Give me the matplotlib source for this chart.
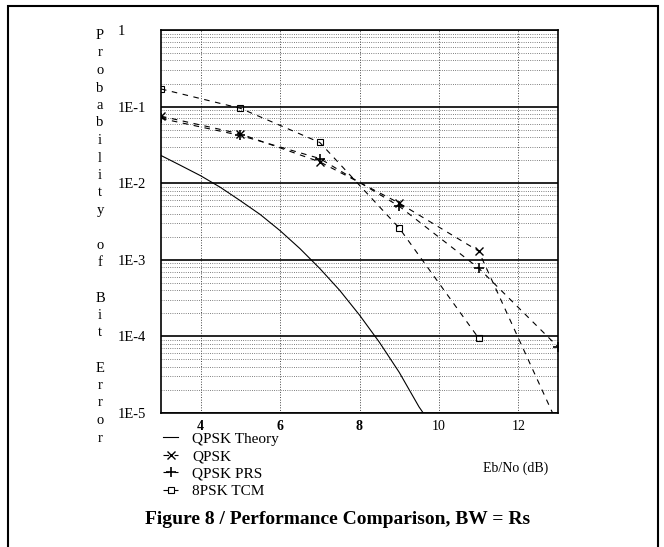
import matplotlib
matplotlib.use('Agg')
import matplotlib.pyplot as plt
from matplotlib.patches import Rectangle
from matplotlib.ticker import LogLocator, NullFormatter

plt.rcParams['font.family'] = ['Liberation Serif', 'DejaVu Serif']

# valores
ebno_theory = [3, 3.5, 4, 4.5, 5, 5.5, 6, 6.5, 7, 7.5, 8, 8.5, 9, 9.5, 9.7]
ber_theory = [2.3e-2, 1.7e-2, 1.25e-2, 8.8e-3, 5.9e-3, 3.9e-3, 2.4e-3, 1.4e-3,
              7.7e-4, 4.0e-4, 1.9e-4, 8.4e-5, 3.4e-5, 1.2e-5, 8.5e-6]

ebno_meas = [3, 5, 7, 9, 11, 13]
ber_qpsk = [0.075, 0.044, 0.019, 0.0055, 0.0013, 7e-6]
ber_prs = [0.07, 0.042, 0.021, 0.005, 7.8e-4, 7.3e-5]

ebno_tcm = [3, 5, 7, 9, 11]
ber_tcm = [0.17, 0.095, 0.034, 0.0026, 9.5e-5]

xticks = [4, 6, 8, 10, 12]
yticks = [1, 1e-1, 1e-2, 1e-3, 1e-4, 1e-5]
ytick_labels = ['1', '1E-1', '1E-2', '1E-3', '1E-4', '1E-5']

fig = plt.figure(figsize=(6.64, 5.47), dpi=100)
ax = fig.add_axes([161/664, 1-413/547, 397/664, 383/547])

dash = (0, (5, 5))
l1, = ax.plot(ebno_theory, ber_theory, '-', color='black', lw=0.8, label='QPSK Theory')
l2, = ax.plot(ebno_meas, ber_qpsk, linestyle=dash, color='black', lw=0.8,
              marker='x', ms=6, mew=1.0, label='QPSK')
l3, = ax.plot(ebno_meas, ber_prs, linestyle=dash, color='black', lw=0.8,
              marker='+', ms=7, mew=1.2, label='QPSK PRS')
l4, = ax.plot(ebno_tcm, ber_tcm, linestyle=dash, color='black', lw=0.8,
              marker='s', ms=5, mfc='none', mew=0.8, label='8PSK TCM')

ax.set_yscale('log')
ax.set_xlim(3, 13)
ax.set_ylim(1e-5, 1)

# rejilla
ax.set_yticks(yticks)
ax.set_yticklabels(ytick_labels)
ax.yaxis.set_minor_locator(LogLocator(base=10, subs=range(2, 10)))
ax.yaxis.set_minor_formatter(NullFormatter())
ax.set_xticks(xticks)
ax.set_xticklabels([str(t) for t in xticks])
ax.grid(True, which='major', axis='y', color='black', lw=1.2, ls='-')
ax.grid(True, which='minor', axis='y', color='#555555', lw=0.6, ls=':')
ax.grid(True, which='major', axis='x', color='#444444', lw=0.7, ls=':')
ax.set_axisbelow(True)

ax.tick_params(axis='both', which='both', length=0)
ax.tick_params(axis='y', pad=31, labelsize=10.5)
ax.tick_params(axis='x', pad=5, labelsize=10)
for lab in ax.get_yticklabels():
    lab.set_horizontalalignment('left')
for lab in ax.get_xticklabels()[:3]:
    lab.set_fontweight('bold')
for s in ax.spines.values():
    s.set_linewidth(1.2)

# etiqueta vertical letra por letra
words = ['Probability', 'of', 'Bit', 'Error']
ylabel = '\n\n'.join('\n'.join(w) for w in words)
fig.text(100/664, 1-29/547, ylabel, ha='center', va='top', fontsize=10.5, linespacing=1.45)

fig.text(516/664, 1-468/547, 'Eb/No (dB)', ha='center', va='center', fontsize=10)

fig.legend(handles=[l1, l2, l3, l4], loc='upper left',
           bbox_to_anchor=(163/664, 1-432/547), frameon=False, fontsize=11,
           handlelength=1.0, handletextpad=0.9, labelspacing=0.25, borderpad=0,
           borderaxespad=0)

fig.text(0.508, 1-520/547, 'Figure 8 / Performance Comparison, BW = Rs',
         ha='center', va='center', fontsize=14, fontweight='bold')

# marco exterior
fig.patches.append(Rectangle((8/664, -0.02), 650/664, 1.02-6/547, transform=fig.transFigure,
                             fill=False, lw=1.5, edgecolor='black'))

fig.savefig('out.png', dpi=100)
